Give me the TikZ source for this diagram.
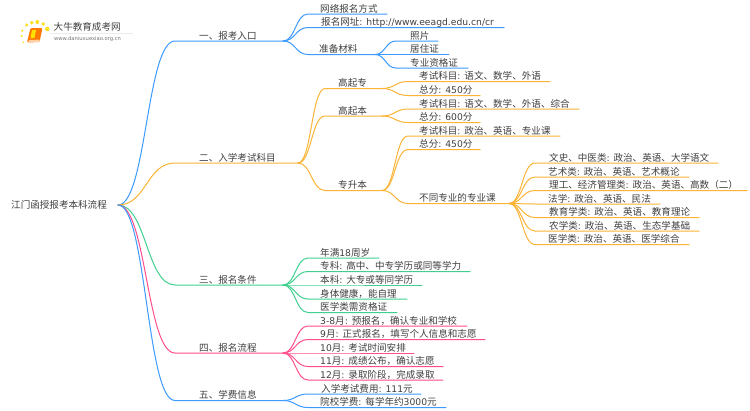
\documentclass[tikz,border=0pt]{standalone}
\usepackage{fontspec}
\usetikzlibrary{calc}
\setmainfont{DejaVu Sans}
\newfontfamily\latn{DejaVu Sans}
\newfontfamily\cjk[Scale=1.04]{Noto Sans CJK SC}
\newXeTeXintercharclass\cjkclass
\newcount\cc
\cc="4E00 \loop\XeTeXcharclass\cc=\cjkclass\advance\cc by 1 \ifnum\cc<"A000 \repeat
\XeTeXcharclass"3001=\cjkclass
\XeTeXcharclass"FF0C=\cjkclass
\XeTeXcharclass"FF08=\cjkclass
\XeTeXcharclass"FF09=\cjkclass
\XeTeXinterchartoks 0 \cjkclass={\cjk}
\XeTeXinterchartoks \cjkclass 0={\latn}
\XeTeXinterchartoks 4095 \cjkclass={\cjk}
\XeTeXinterchartoks \cjkclass 4095={\latn}
\XeTeXinterchartokenstate=1
\definecolor{cb}{HTML}{3D9BFF}
\definecolor{co}{HTML}{FBB437}
\definecolor{cg}{HTML}{3FD08F}
\definecolor{cp}{HTML}{FF4D8D}
\definecolor{tx}{HTML}{404040}
\tikzset{
  lbl/.style={anchor=base west,inner sep=0pt,text=tx,font=\fontsize{9.2}{11}\selectfont},
  conn/.style={line width=1pt,line cap=round},
}
% name, parent, colour, line start x, y, line end x, text x, text
\newcommand{\bn}[8]{%
  \coordinate (#1-s) at (#4,#5);
  \coordinate (#1-e) at (#6,#5);
  \coordinate (#1-m) at ($(#2-e)!.5!(#1-s)$);
  \node[lbl] (#1) at (#7,#5-1.8) {#8};
  \draw[conn,#3] (#2-e) .. controls (#1-m |- #2-e) and (#1-m |- #1-s) .. (#1-s) -- (#1-e);
}
\begin{document}
\begin{tikzpicture}[x=1pt,y=-1pt]
\useasboundingbox (0,0) rectangle (750,410);
\fill[white] (0,0) rectangle (750,410);
% logo
\fill[yellow!80!orange!90] (26.7,25) circle (1.7) (31.7,22.7) circle (1.9) (37.3,22) circle (2) (43.3,24) circle (1.9) (47.3,29) circle (2.2) (22.3,30.7) circle (1.2) (21.7,36) circle (1.1) (23.3,42.3) circle (.9);
\fill[orange!95!red,rounded corners=1.2pt] (30.5,28) -- (42.5,28) -- (39.5,42) -- (27,42.5) -- cycle;
\fill[orange!35,rounded corners=.8pt] (29,40) -- (39.8,39.6) -- (39.2,42) -- (28.2,42.3) -- cycle;
\fill[yellow!85!orange] (32,30) -- (36,30) -- (34.5,38) -- (30.5,38) -- cycle;
\draw[black!8,line width=.6pt] (50,33) -- (133,33);
\node[anchor=west,inner sep=0pt,text=black!75,font=\fontsize{9.2}{11}\selectfont] (logot) at (53.5,27) {大牛教育成考网};
\node[anchor=west,inner sep=0pt,text=black!55,font=\fontsize{5.2}{6}\selectfont] (logou) at (54,38.7) {www.daniuxuexiao.org.cn};
% root
\coordinate (root-e) at (118,205);
\node[lbl] (root) at (11,208.5) {江门函授报考本科流程};
% 一
\bn{a}{root}{cb}{175}{41}{283}{199}{一、报考入口}
\bn{a1}{a}{cb}{308}{14}{387}{320}{网络报名方式}
\bn{a2}{a}{cb}{308}{27.5}{504}{321}{报名网址: http://www.eeagd.edu.cn/cr}
\bn{a3}{a}{cb}{308}{54.5}{375}{319}{准备材料}
\bn{a31}{a3}{cb}{396}{41}{438}{410}{照片}
\bn{a32}{a3}{cb}{396}{54.5}{449}{410}{居住证}
\bn{a33}{a3}{cb}{396}{68}{468}{410}{专业资格证}
% 二
\bn{b}{root}{co}{175}{163}{298}{199}{二、入学考试科目}
\bn{b1}{b}{co}{325}{88.5}{382}{338}{高起专}
\bn{b11}{b1}{co}{408}{81.5}{550}{419}{考试科目: 语文、数学、外语}
\bn{b12}{b1}{co}{408}{95.5}{480}{419}{总分: 450分}
\bn{b2}{b}{co}{325}{116}{382}{338}{高起本}
\bn{b21}{b2}{co}{408}{109}{579}{419}{考试科目: 语文、数学、外语、综合}
\bn{b22}{b2}{co}{408}{122.5}{480}{419}{总分: 600分}
\bn{b3}{b}{co}{325}{190.5}{382}{338}{专升本}
\bn{b31}{b3}{co}{408}{136}{560}{419}{考试科目: 政治、英语、专业课}
\bn{b32}{b3}{co}{408}{149.5}{480}{419}{总分: 450分}
\bn{b33}{b3}{co}{408}{203.5}{509}{419}{不同专业的专业课}
\bn{c1}{b33}{co}{535}{163}{718}{549}{文史、中医类: 政治、英语、大学语文}
\bn{c2}{b33}{co}{535}{177}{689}{548}{艺术类: 政治、英语、艺术概论}
\bn{c3}{b33}{co}{535}{190.5}{747}{549}{理工、经济管理类: 政治、英语、高数（二）}
\bn{c4}{b33}{co}{535}{204}{660}{548}{法学: 政治、英语、民法}
\bn{c5}{b33}{co}{535}{217.5}{699}{549}{教育学类: 政治、英语、教育理论}
\bn{c6}{b33}{co}{535}{231}{699}{549}{农学类: 政治、英语、生态学基础}
\bn{c7}{b33}{co}{535}{244.5}{689}{548}{医学类: 政治、英语、医学综合}
% 三
\bn{d}{root}{cg}{175}{285}{283}{199}{三、报名条件}
\bn{d1}{d}{cg}{308}{258}{379}{320}{年满18周岁}
\bn{d2}{d}{cg}{308}{271.5}{470}{320}{专科: 高中、中专学历或同等学力}
\bn{d3}{d}{cg}{308}{285}{422}{320}{本科: 大专或等同学历}
\bn{d4}{d}{cg}{308}{299}{407}{320}{身体健康，能自理}
\bn{d5}{d}{cg}{308}{312.5}{397}{320}{医学类需资格证}
% 四
\bn{e}{root}{cp}{175}{353}{283}{199}{四、报名流程}
\bn{e1}{e}{cp}{308}{326}{467}{320}{3-8月: 预报名，确认专业和学校}
\bn{e2}{e}{cp}{308}{339.5}{485}{320}{9月: 正式报名，填写个人信息和志愿}
\bn{e3}{e}{cp}{308}{353}{414}{320}{10月: 考试时间安排}
\bn{e4}{e}{cp}{308}{366.5}{443}{320}{11月: 成绩公布，确认志愿}
\bn{e5}{e}{cp}{308}{380}{443}{320}{12月: 录取阶段，完成录取}
% 五
\bn{f}{root}{cb}{175}{400.5}{283}{199}{五、学费信息}
\bn{f1}{f}{cb}{308}{394}{421}{321}{入学考试费用: 111元}
\bn{f2}{f}{cb}{308}{407.5}{446}{320}{院校学费: 每学年约3000元}
\end{tikzpicture}
\end{document}
